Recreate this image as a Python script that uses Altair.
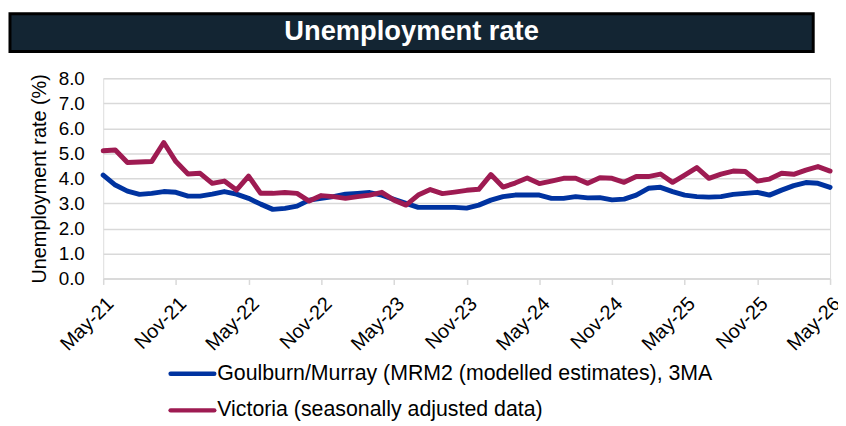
import altair as alt
import pandas as pd

month_index = list(range(61))
goulburn = [4.13, 3.73, 3.49, 3.36, 3.40, 3.47, 3.44, 3.29, 3.29, 3.37,
            3.47, 3.37, 3.20, 2.97, 2.76, 2.80, 2.89, 3.13, 3.20, 3.27,
            3.37, 3.40, 3.43, 3.33, 3.16, 3.00, 2.84, 2.84, 2.84, 2.84,
            2.81, 2.93, 3.13, 3.27, 3.33, 3.33, 3.33, 3.20, 3.20, 3.27,
            3.22, 3.23, 3.14, 3.17, 3.33, 3.60, 3.64, 3.47, 3.33, 3.27,
            3.25, 3.27, 3.36, 3.40, 3.44, 3.33, 3.53, 3.71, 3.83, 3.80, 3.64]
victoria = [5.10, 5.13, 4.63, 4.65, 4.67, 5.43, 4.67, 4.17, 4.20, 3.80,
            3.89, 3.53, 4.09, 3.40, 3.40, 3.43, 3.40, 3.09, 3.31, 3.27,
            3.20, 3.27, 3.33, 3.44, 3.13, 2.93, 3.33, 3.55, 3.39, 3.45,
            3.52, 3.56, 4.15, 3.65, 3.81, 4.01, 3.79, 3.89, 4.00, 4.00,
            3.80, 4.02, 4.00, 3.84, 4.07, 4.07, 4.17, 3.84, 4.13, 4.43,
            4.00, 4.17, 4.29, 4.27, 3.89, 3.97, 4.20, 4.16, 4.33, 4.47, 4.29]
tick_labels = ["May-21", "Nov-21", "May-22", "Nov-22", "May-23", "Nov-23",
               "May-24", "Nov-24", "May-25", "Nov-25", "May-26"]
y_ticks = [0, 1, 2, 3, 4, 5, 6, 7, 8]
series_names = ["Goulburn/Murray (MRM2 (modelled estimates), 3MA",
                "Victoria (seasonally adjusted data)"]
series_colors = ["#0033A0", "#9E1B52"]
title_text = "Unemployment rate"
y_title = "Unemployment rate (%)"

df = pd.DataFrame({
    "m": month_index + month_index,
    "rate": goulburn + victoria,
    "series": [series_names[0]] * len(goulburn) + [series_names[1]] * len(victoria),
})

label_expr = "[" + ",".join("'" + t + "'" for t in tick_labels) + "][round(datum.value / 6)]"

FONT = "Liberation Sans, Arial, sans-serif"
W, H = 733, 202

lines = alt.Chart(df).mark_line(strokeWidth=5, strokeJoin="round", strokeCap="round").encode(
    x=alt.X("m:Q",
            scale=alt.Scale(domain=[0, 60], nice=False, zero=False),
            axis=alt.Axis(values=list(range(0, 61, 6)), labelExpr=label_expr,
                          labelAngle=-45, labelAlign="right", labelBaseline="top",
                          title=None, grid=False,
                          domainColor="#d9d9d9", domainWidth=1.5,
                          tickColor="#d9d9d9", tickSize=6, tickWidth=1.5,
                          labelFontSize=20, labelColor="black", labelFont=FONT,
                          labelPadding=9)),
    y=alt.Y("rate:Q",
            scale=alt.Scale(domain=[0, 8], nice=False),
            axis=alt.Axis(values=y_ticks, format=".1f", title=y_title,
                          grid=True, gridColor="#d9d9d9", gridWidth=1.5,
                          domain=False, ticks=False,
                          labelFontSize=19, labelColor="black", labelFont=FONT,
                          labelPadding=19,
                          titleFontSize=20, titleFont=FONT, titleFontWeight="normal",
                          titleColor="black", titlePadding=9)),
    color=alt.Color("series:N", scale=alt.Scale(domain=series_names, range=series_colors),
                    legend=None),
)

one = pd.DataFrame({"k": [0]})

title_rect = alt.Chart(one).mark_rect(fill="#132533", stroke="black", strokeWidth=3).encode(
    x=alt.value(-94), x2=alt.value(716), y=alt.value(-65), y2=alt.value(-27))
title_txt = alt.Chart(one).mark_text(text=title_text, color="white", fontSize=27.5,
                                     fontWeight="bold", font=FONT,
                                     align="center", baseline="middle").encode(
    x=alt.value(311), y=alt.value(-46))

legend_layers = []
for i, (name, col) in enumerate(zip(series_names, series_colors)):
    yy = 298 + i * 37
    legend_layers.append(
        alt.Chart(one).mark_rule(color=col, strokeWidth=4.5, strokeCap="round").encode(
            x=alt.value(68), x2=alt.value(112), y=alt.value(yy)))
    legend_layers.append(
        alt.Chart(one).mark_text(text=name, color="black", fontSize=21.5, font=FONT,
                                 align="left", baseline="middle").encode(
            x=alt.value(115), y=alt.value(yy)))

chart = alt.layer(title_rect, title_txt, lines, *legend_layers).properties(
    width=W, height=H,
    autosize=alt.AutoSizeParams(type="none"),
    padding={"left": 96, "top": 69, "right": 8, "bottom": 147},
).configure_view(stroke=None).configure(background="white")

chart.save("out.html", embed_options={"renderer": "svg", "actions": False})
